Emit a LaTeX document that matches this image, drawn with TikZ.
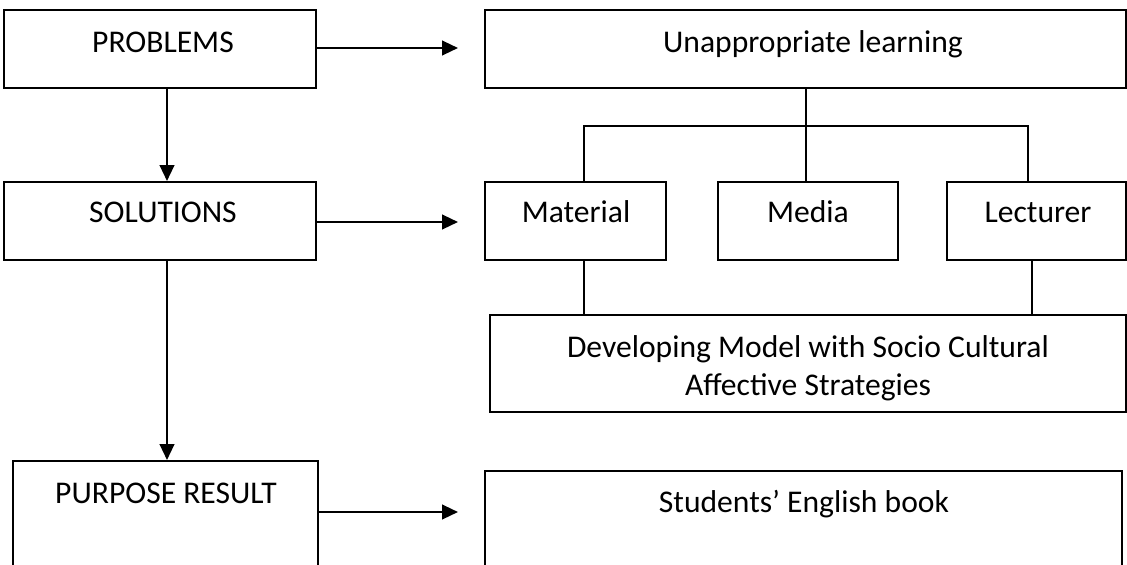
\documentclass[tikz,border=0pt]{standalone}
\usepackage{fontspec}
\setmainfont{Carlito}
\usetikzlibrary{arrows.meta}
\begin{document}
\begin{tikzpicture}[x=0.75pt,y=-0.75pt,
  box/.style={draw=black,line width=1.5pt,inner sep=0pt},
  txt/.style={anchor=base,inner sep=0pt,font=\fontsize{23.7pt}{28.5pt}\selectfont,align=center},
  arr/.style={line width=1.7pt,-{Triangle[length=12pt,width=11pt]}},
  tree/.style={line width=1.2pt}]
\useasboundingbox (0,0) rectangle (1127,564);
\clip (0,0) rectangle (1127,564);
% boxes
\node[box,minimum width=312*0.75pt,minimum height=78*0.75pt] (prob) at (160,49) {};
\node[box,minimum width=312*0.75pt,minimum height=78*0.75pt] (sol) at (160,221) {};
\node[box,minimum width=305*0.75pt,minimum height=139*0.75pt] (purp) at (165.5,530.5) {};
\node[box,minimum width=641*0.75pt,minimum height=78*0.75pt] (unapp) at (805.5,49) {};
\node[box,minimum width=181*0.75pt,minimum height=78*0.75pt] (mat) at (575.5,221) {};
\node[box,minimum width=180*0.75pt,minimum height=78*0.75pt] (med) at (808,221) {};
\node[box,minimum width=179*0.75pt,minimum height=78*0.75pt] (lect) at (1036.5,221) {};
\node[box,minimum width=636*0.75pt,minimum height=97*0.75pt] (dev) at (808,363.5) {};
\node[box,minimum width=637*0.75pt,minimum height=129*0.75pt] (stud) at (803.5,535.5) {};
% texts
\node[txt] (probT) at (163,52) {PROBLEMS};
\node[txt] (solT) at (163,222) {SOLUTIONS};
\node[txt] (purpT) at (166,503) {PURPOSE RESULT};
\node[txt] (unappT) at (813,52) {Unappropriate learning};
\node[txt] (matT) at (576,222) {Material};
\node[txt] (medT) at (808,222) {Media};
\node[txt] (lectT) at (1038,222) {Lecturer};
\node[txt] (devT1) at (808,357) {Developing Model with Socio Cultural};
\node[txt] (devT2) at (808,395) {Affective Strategies};
\node[txt] (studT) at (804,512) {Students’ English book};
% arrow ends
\coordinate (a1) at (458,48);
\coordinate (a2) at (458,222);
\coordinate (a3) at (458,512);
\coordinate (vx) at (167,0);
\draw[arr] (prob.east |- a1) -- (a1);
\draw[arr] (sol.east |- a2) -- (a2);
\draw[arr] (purp.east |- a3) -- (a3);
\draw[arr] (prob.south -| vx) -- (sol.north -| vx);
\draw[arr] (sol.south -| vx) -- (purp.north -| vx);
% tree
\coordinate (junc) at (806,126);
\coordinate (jl) at (584,126);
\coordinate (jr) at (1028,126);
\draw[tree] (unapp.south -| junc) -- (junc);
\draw[tree] (mat.north -| jl) -- (jl) -- (jr) -- (lect.north -| jr);
\draw[tree] (junc) -- (med.north -| junc);
\coordinate (dl) at (584,315);
\coordinate (dr) at (1032,315);
\draw[tree] (mat.south -| dl) -- (dev.north -| dl);
\draw[tree] (lect.south -| dr) -- (dev.north -| dr);
\end{tikzpicture}
\end{document}
